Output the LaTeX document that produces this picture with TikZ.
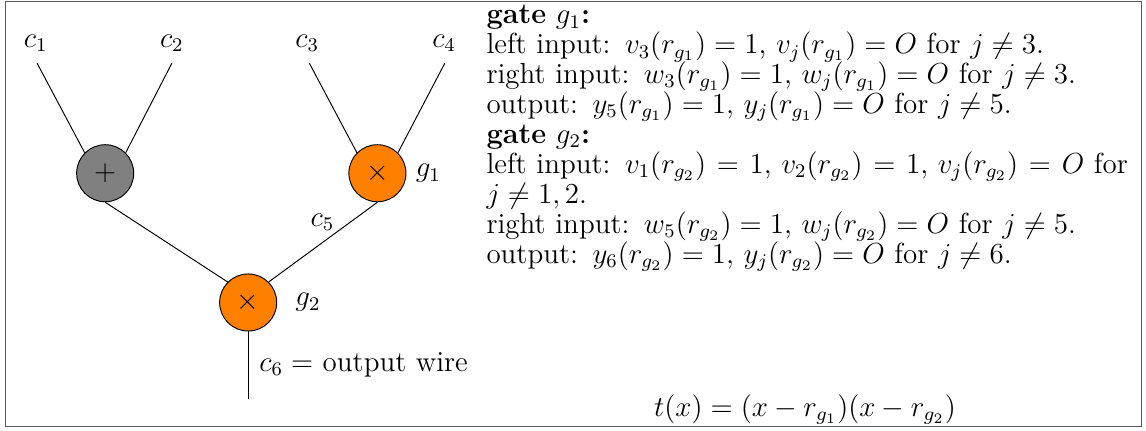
\documentclass[tikz,border=0pt]{standalone}
\begin{document}
\begin{tikzpicture}[gate/.style={circle,draw,minimum size=0.83cm,inner sep=0pt},
  every node/.style={font=\fontsize{12}{12.4}\selectfont}]
\useasboundingbox (0,0) rectangle (16.67,6.26);
\draw[gray!70!black] (0.08,0.06) rectangle (16.61,6.24);
% the three gates
\node[gate,fill=gray] (add) at (1.53,3.74) {$+$};
\node[gate,fill=orange] (g1) at (5.49,3.74) {$\times$};
\node[gate,fill=orange] (g2) at (3.61,1.86) {$\times$};
\node (g1lab) at (6.23,3.74) {$g_1$};
\node (g2lab) at (4.48,1.86) {$g_2$};
% input wires
\node (c1) at (0.52,5.63) {$c_1$};
\node (c2) at (2.50,5.63) {$c_2$};
\node (c3) at (4.47,5.63) {$c_3$};
\node (c4) at (6.46,5.63) {$c_4$};
\coordinate (t1) at (0.54,5.34);
\coordinate (t2) at (2.50,5.34);
\coordinate (t3) at (4.50,5.34);
\coordinate (t4) at (6.47,5.34);
\draw (t1) -- (add.north west);
\draw (t2) -- (add.north east);
\draw (t3) -- (g1.north west);
\draw (t4) -- (g1.north east);
% inner wires
\draw (add.south) -- (g2.north west);
\draw (g1.south) -- (g2.north east);
\node (c5) at (4.69,3.03) {$c_5$};
% output wire
\coordinate (out) at (3.61,0.45);
\draw (g2.south) -- (out);
\node[anchor=west] (c6) at (3.65,0.96) {$c_6=$ output wire};
% QAP assignment
\node[anchor=north west,align=left,text width=9.4cm,inner sep=0pt] (txt) at (7.07,6.19) {%
\lineskiplimit=-1pt\lineskip=0pt\relax
\textbf{gate} $g_1$\textbf{:}\\
left input: $v_3(r_{g_1})=1$, $v_j(r_{g_1})=O$ for $j\neq 3$.\\
right input: $w_3(r_{g_1})=1$, $w_j(r_{g_1})=O$ for $j\neq 3$.\\
output: $y_5(r_{g_1})=1$, $y_j(r_{g_1})=O$ for $j\neq 5$.\\
\textbf{gate} $g_2$\textbf{:}\\
\makebox[9.33cm][s]{left input: $v_1(r_{g_2})=1$, $v_2(r_{g_2})=1$, $v_j(r_{g_2})=O$ for}\\
$j\neq 1,2$.\\
right input: $w_5(r_{g_2})=1$, $w_j(r_{g_2})=O$ for $j\neq 5$.\\
output: $y_6(r_{g_2})=1$, $y_j(r_{g_2})=O$ for $j\neq 6$.};
\node (tx) at (11.71,0.30) {$t(x)=(x-r_{g_1})(x-r_{g_2})$};
\end{tikzpicture}
\end{document}
